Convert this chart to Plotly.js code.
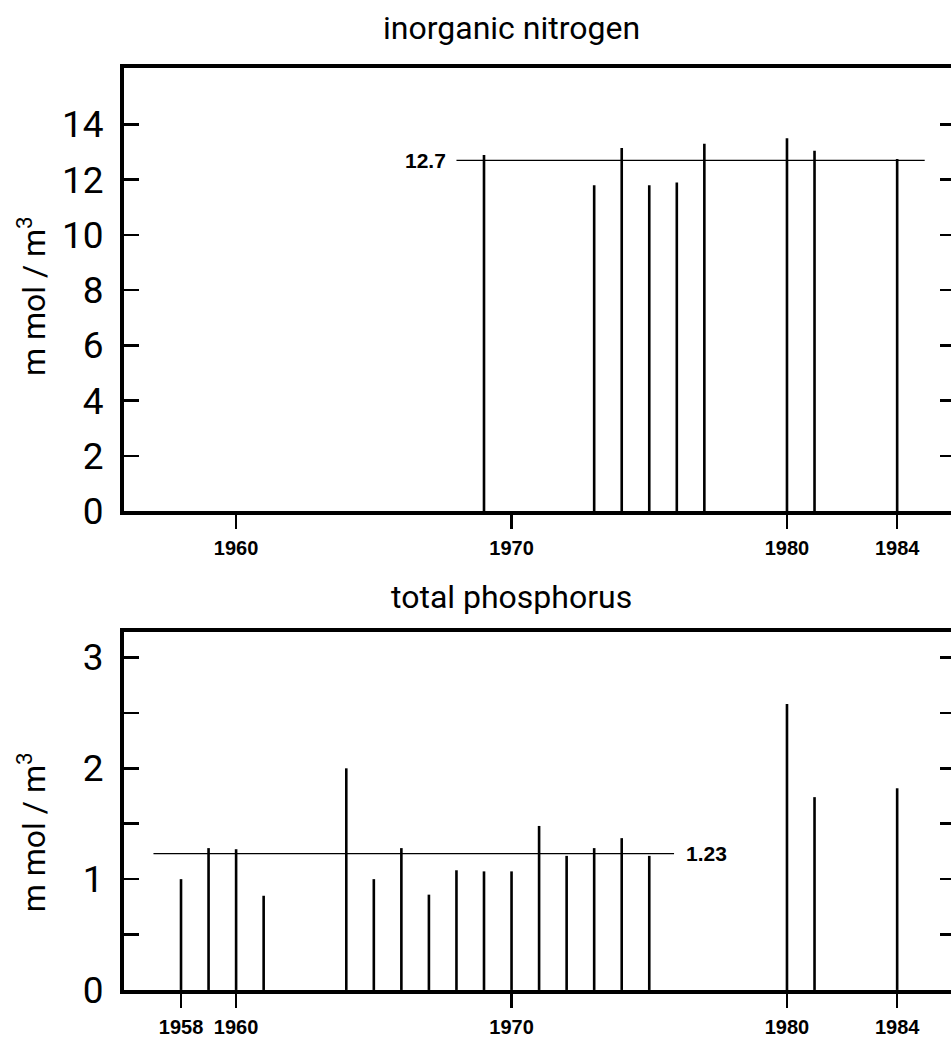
<!DOCTYPE html>
<html>
<head>
<meta charset="utf-8">
<script src="https://cdn.plot.ly/plotly-3.0.1.min.js"></script>
<style>
html,body{margin:0;padding:0;overflow:hidden;background:#fff;}
#chart{width:970px;height:1039px;}
</style>
</head>
<body>
<div id="chart"></div>
<script>
// ---- data ----
const yearsN = [1969, 1973, 1974, 1975, 1976, 1977, 1980, 1981, 1984];
const valuesN = [12.9, 11.8, 13.15, 11.8, 11.9, 13.3, 13.5, 13.05, 12.75];
const meanN = 12.7;
const meanNSpan = [1968, 1985];

const yearsP = [1958, 1959, 1960, 1961, 1964, 1965, 1966, 1967, 1968, 1969, 1970, 1971, 1972, 1973, 1974, 1975, 1980, 1981, 1984];
const valuesP = [1.0, 1.28, 1.27, 0.85, 2.0, 1.0, 1.28, 0.86, 1.08, 1.07, 1.07, 1.48, 1.21, 1.28, 1.37, 1.21, 2.58, 1.74, 1.82];
const meanP = 1.23;
const meanPSpan = [1957, 1975.9];

const xTicksN = [1960, 1970, 1980, 1984];
const xTicksP = [1958, 1960, 1970, 1980, 1984];
const yTicksN = [0, 2, 4, 6, 8, 10, 12, 14];
const yTicksP = [0, 0.5, 1, 1.5, 2, 2.5, 3];
const yTextP = ['0', ' ', '1', ' ', '2', ' ', '3'];

const titleN = 'inorganic nitrogen';
const titleP = 'total phosphorus';
const unitLabel = 'm mol / m<sup>3</sup>';

// ---- styling ----
const lightFont = 'Roboto, "Liberation Sans", sans-serif';
const boldFam = '"Liberation Sans", Arial, sans-serif';
const boldFont = {family: boldFam, size: 20, color: '#000', weight: 'bold'};

const traces = [
  {type: 'bar', x: yearsN, y: valuesN, width: 0.095, marker: {color: '#000'}, xaxis: 'x', yaxis: 'y'},
  {type: 'scatter', mode: 'lines', x: meanNSpan, y: [meanN, meanN], line: {color: '#000', width: 1.3}, xaxis: 'x', yaxis: 'y'},
  {type: 'bar', x: yearsP, y: valuesP, width: 0.095, marker: {color: '#000'}, xaxis: 'x2', yaxis: 'y2'},
  {type: 'scatter', mode: 'lines', x: meanPSpan, y: [meanP, meanP], line: {color: '#000', width: 1.3}, xaxis: 'x2', yaxis: 'y2'}
];

const xRange = [1955.93, 1986.1];
function xAxis(ticks, anchor) {
  return {
    anchor: anchor, domain: [0, 1], range: xRange,
    tickmode: 'array', tickvals: ticks, ticktext: ticks.map(String),
    ticks: 'outside', ticklen: 14, tickwidth: 2.5, tickcolor: '#000',
    showline: true, mirror: true, linewidth: 4, linecolor: '#000',
    showgrid: false, zeroline: false, tickfont: boldFont, ticklabelstandoff: 2
  };
}
function yAxis(range, ticks, text, domain, anchor) {
  return {
    anchor: anchor, domain: domain, range: range,
    tickmode: 'array', tickvals: ticks, ticktext: text,
    ticks: 'inside', ticklen: 15, tickwidth: 2.5, tickcolor: '#000',
    showline: true, mirror: 'ticks', linewidth: 4, linecolor: '#000',
    showgrid: false, zeroline: false,
    tickfont: {family: lightFont, size: 37, color: '#000'}, ticklabelstandoff: 9
  };
}

const layout = {
  width: 970, height: 1039,
  margin: {l: 124, r: 15, t: 0, b: 0},
  paper_bgcolor: '#fff', plot_bgcolor: '#fff',
  showlegend: false,
  xaxis: xAxis(xTicksN, 'y'),
  yaxis: yAxis([0, 16.05], yTicksN, yTicksN.map(String), [0.5082, 0.9346], 'x'),
  xaxis2: xAxis(xTicksP, 'y2'),
  yaxis2: yAxis([0, 3.23], yTicksP, yTextP, [0.0472, 0.3917], 'x2'),
  annotations: [
    {text: titleN, xref: 'x', yref: 'paper', x: 1970, y: 0.973, xanchor: 'center', yanchor: 'middle', showarrow: false, font: {family: lightFont, size: 32, color: '#000'}},
    {text: titleP, xref: 'x2', yref: 'paper', x: 1970, y: 0.4254, xanchor: 'center', yanchor: 'middle', showarrow: false, font: {family: lightFont, size: 32, color: '#000'}},
    {text: unitLabel, xref: 'paper', yref: 'paper', x: 0, xshift: -92, y: 0.715, xanchor: 'center', yanchor: 'middle', textangle: -90, showarrow: false, font: {family: lightFont, size: 32, color: '#000'}},
    {text: unitLabel, xref: 'paper', yref: 'paper', x: 0, xshift: -92, y: 0.199, xanchor: 'center', yanchor: 'middle', textangle: -90, showarrow: false, font: {family: lightFont, size: 32, color: '#000'}},
    {text: String(meanN), xref: 'x', yref: 'y', x: meanNSpan[0], y: meanN, xanchor: 'right', yanchor: 'middle', xshift: -8, showarrow: false, font: {family: boldFam, size: 21, color: '#000', weight: 'bold'}},
    {text: String(meanP), xref: 'x2', yref: 'y2', x: meanPSpan[1], y: meanP, xanchor: 'left', yanchor: 'middle', xshift: 10, showarrow: false, font: {family: boldFam, size: 21, color: '#000', weight: 'bold'}}
  ]
};

Plotly.newPlot('chart', traces, layout, {displayModeBar: false, staticPlot: true});
</script>
</body>
</html>
